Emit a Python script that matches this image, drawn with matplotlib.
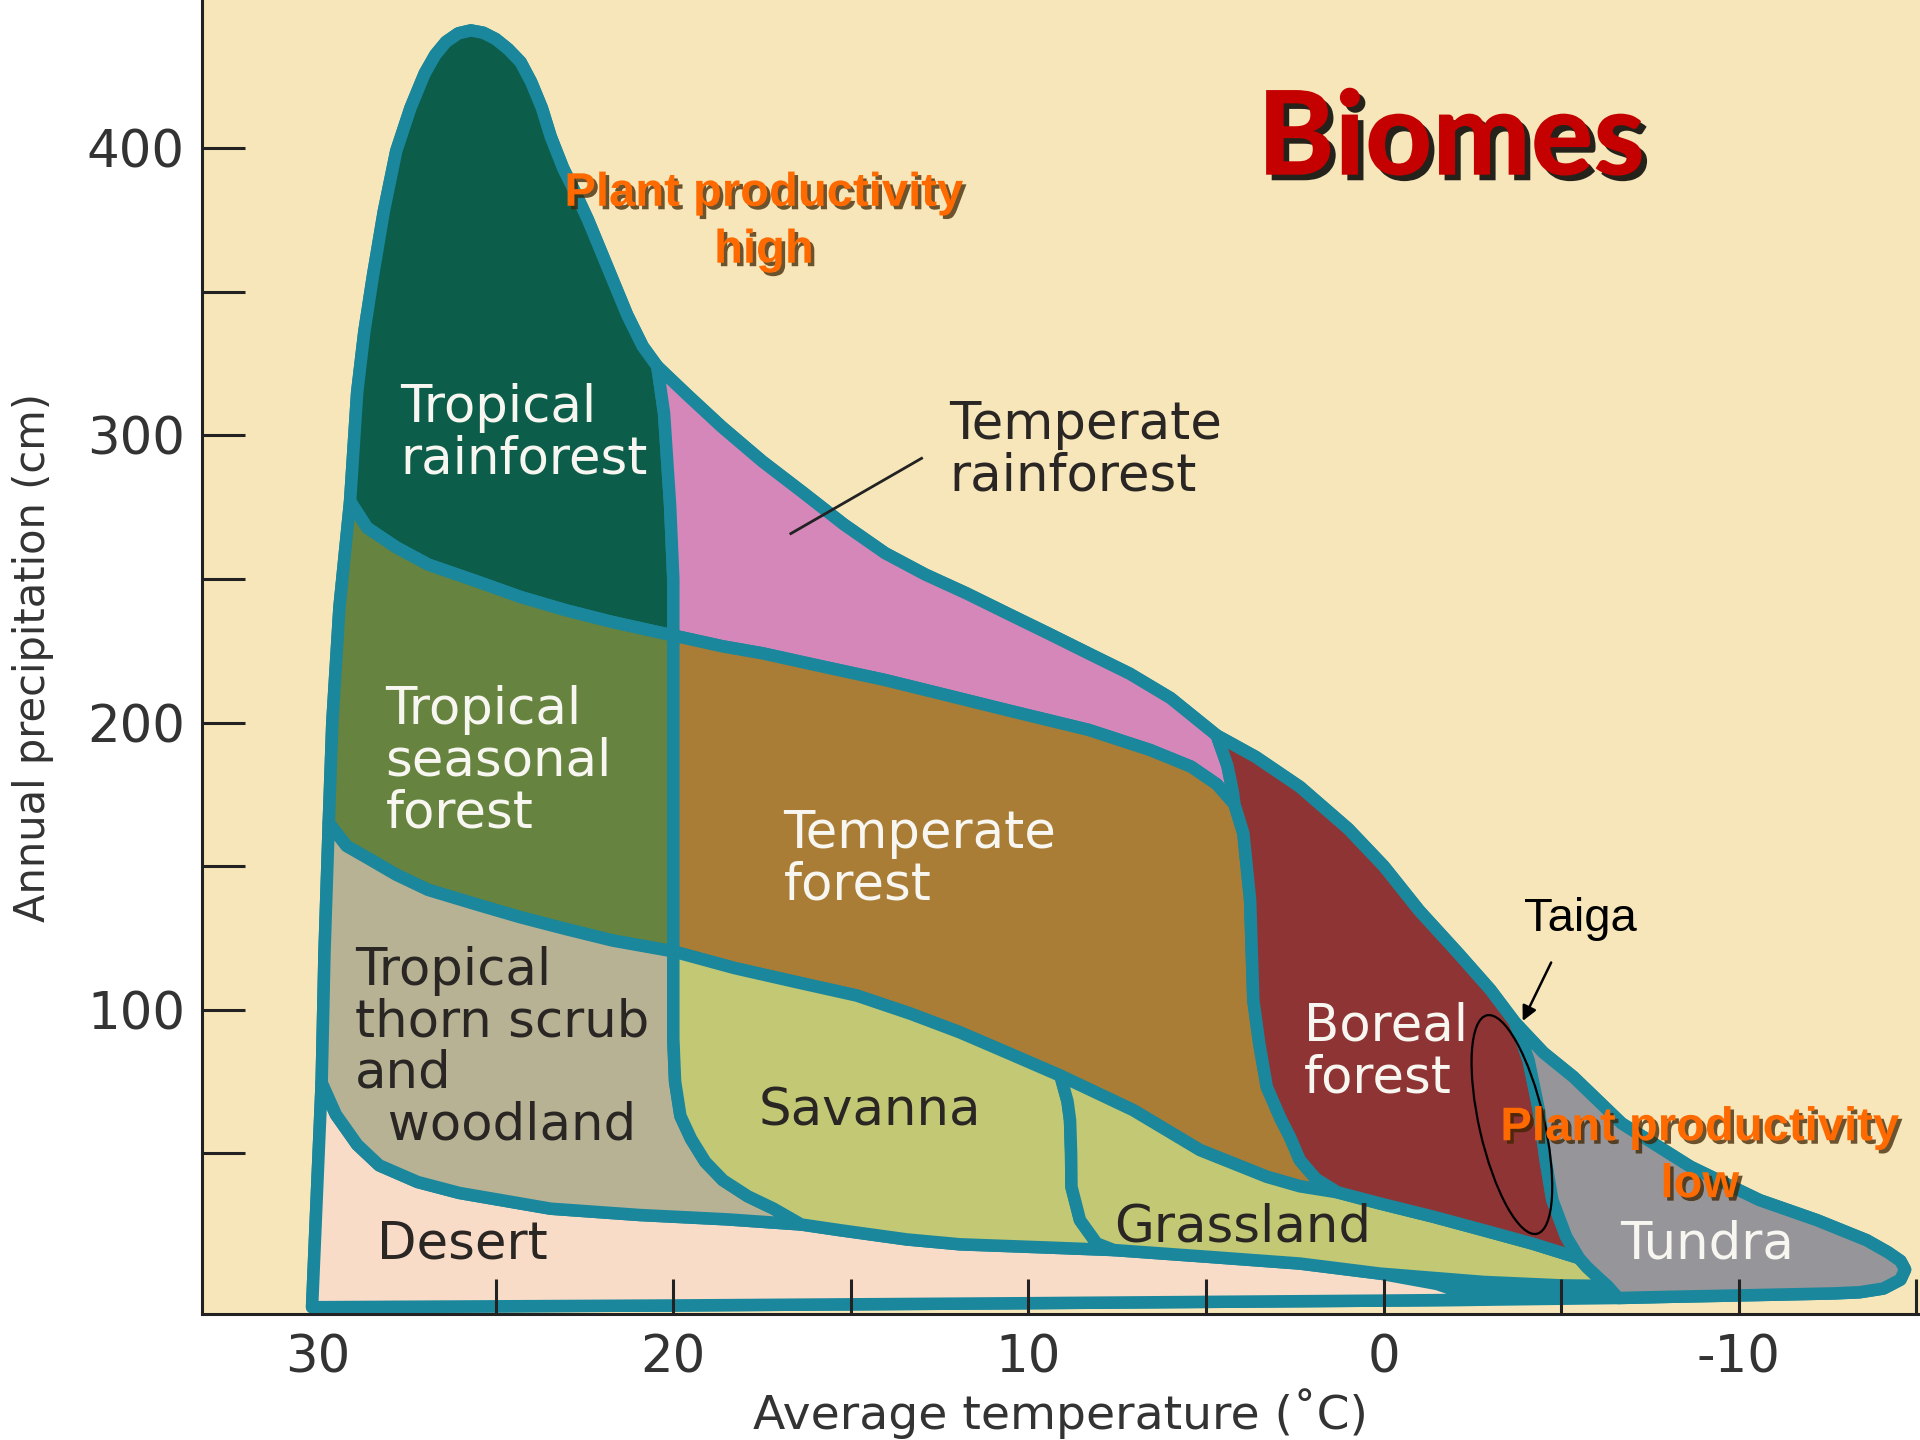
import numpy as np
import matplotlib.pyplot as plt
import matplotlib.patheffects as pe
from matplotlib.patches import Polygon, Ellipse
from matplotlib.transforms import Affine2D

plt.rcParams['axes.unicode_minus'] = False

# biome boundaries as (temperature degC, precipitation cm)
# outer edge, going up the left side, over the peak and down to the tundra tip
edge_desert = [(30.17, -3.6), (30.02, 40), (29.9, 74.6)]
edge_thorn = [(29.9, 74.6), (29.82, 120), (29.7, 165)]
edge_seasonal = [(29.7, 165), (29.6, 200), (29.4, 240), (29.1, 277)]
edge_rainforest = [(29.1, 277), (28.9, 315), (28.7, 336), (28.45, 356), (28.15, 378),
                   (27.8, 399), (27.4, 414), (27.0, 426), (26.7, 432.5), (26.4, 437),
                   (26.05, 440), (25.7, 441), (25.35, 440.2), (25.0, 438), (24.65, 434.5),
                   (24.3, 430), (24.0, 423), (23.7, 414), (23.45, 404), (23.1, 393),
                   (22.7, 383), (22.4, 375), (22.0, 363), (21.6, 351), (21.3, 342),
                   (20.86, 331), (20.45, 324)]
edge_pink = [(20.45, 324), (19.6, 314), (18.64, 303), (17.5, 291), (16.34, 280),
             (15.2, 269), (14.04, 259), (12.9, 251.5), (11.75, 245), (10.6, 238),
             (9.44, 231), (8.3, 224), (7.15, 217), (6.0, 208.5), (4.7, 195.5)]
edge_boreal = [(4.7, 195.5), (3.6, 188), (2.36, 177.6), (1.0, 163), (0.0, 150),
               (-1.0, 134.5), (-2.1, 119.6), (-3.0, 107), (-3.7, 95.5)]
edge_tundra = [(-3.7, 95.5), (-4.5, 85), (-5.34, 76.6), (-6.7, 60.4), (-8.64, 45.3),
               (-10.58, 33.7), (-12.2, 26.7), (-13.6, 19.7), (-14.2, 15.5), (-14.55, 12.5),
               (-14.68, 9.5), (-14.55, 6), (-14.07, 2.9), (-13.4, 1.6), (-12.67, 1.2),
               (-10, 0.5), (-8, 0), (-6.6, -0.4)]
bottom_right = [(-6.6, -0.4), (-2.8, -1.0)]
bottom_left = [(-2.8, -1.0), (0, -1.3), (10, -2.2), (20, -3.0), (30.17, -3.6)]

# inner boundaries
line_rf = [(29.1, 277), (28.62, 267.8), (27.8, 261), (26.9, 255), (25.5, 249),
           (24.3, 243.7), (23, 239), (21.72, 235), (20, 230.3)]
line_pink = [(20, 230.3), (18.6, 226.5), (17.49, 224.1), (15.8, 219.5), (14.04, 214.8),
             (12.3, 209.5), (10.6, 204.3), (8.3, 197.4), (6.57, 190.4), (5.42, 184.6),
             (4.7, 178.5), (4.2, 171.5)]
line_seas = [(29.7, 165), (29.2, 157), (28.62, 152.9), (27.8, 147), (26.9, 141.7),
             (25.5, 136.5), (24.31, 132.2), (23, 128), (21.72, 124.1), (20, 120.3)]
temp_sav = [(20, 120.3), (18.28, 114.5), (16.5, 109.5), (14.83, 104.9), (13.3, 98.5),
            (11.93, 92.1), (10.5, 84.5), (9.1, 77)]
temp_grass = [(9.1, 77), (7.05, 65), (5.17, 51.1), (3.29, 41.8), (2.36, 38.5), (1.3, 36.4)]
x20_upper = [(20.45, 324), (20.26, 307.7), (20.09, 275.7), (20.0, 250), (20, 230.3)]
x20_mid = [(20, 230.3), (20, 175), (20, 120.3)]
x20_low = [(20, 120.3), (20, 90), (19.95, 75), (19.8, 63), (19.5, 55), (19.1, 47),
           (18.6, 40.6), (17.9, 35), (17.19, 30.8), (16.4, 25.2)]
bor_upper = [(4.7, 195.5), (4.4, 185), (4.25, 176), (4.2, 171.5)]
bor_lower = [(4.2, 171.5), (3.95, 161.4), (3.76, 138.2), (3.67, 103.3), (3.5, 88),
             (3.29, 73.1), (2.9, 62), (2.64, 55.7), (2.36, 47.6), (1.9, 41), (1.3, 36.4)]
line_bg = [(1.3, 36.4), (0.1, 32.5), (-1.4, 27.9), (-2.81, 23.2), (-4.2, 18.5), (-5.5, 13.5)]
tu_upper = [(-3.7, 95.5), (-4.08, 82.4), (-4.37, 65), (-4.56, 47.6), (-4.75, 33.7),
            (-5.14, 20.9), (-5.5, 13.5)]
tu_lower = [(-5.5, 13.5), (-5.72, 10.4), (-6.1, 6), (-6.3, 3.8)]
tu_bottom = [(-6.3, 3.8), (-6.6, -0.4)]
line_sg = [(9.1, 77), (8.9, 68), (8.83, 61.5), (8.8, 50), (8.79, 38.3), (8.55, 26.7),
           (8.08, 18.6), (7.6, 16.3)]
desert_thorn = [(29.9, 74.6), (29.5, 63.5), (28.9, 53), (28.28, 45.8), (27.2, 40),
                (26.03, 36.2), (23.45, 30.7), (20.94, 28.5), (18.5, 27), (16.4, 25.2)]
desert_sav = [(16.4, 25.2), (15.3, 23.2), (13.43, 20), (11.93, 18.3), (9.5, 17.2), (7.6, 16.3)]
desert_grass = [(7.6, 16.3), (5, 14), (2.36, 11.6), (0.1, 8.1)]
grass_tail = [(0.1, 8.1), (-2.81, 5.2), (-5, 4.0), (-6.3, 3.8)]
desert_tail = [(0.1, 8.1), (-1.5, 4.5), (-2.8, -1.0)]


def rev(seg):
    return seg[::-1]


def chain(*segs):
    return np.array([p for s in segs for p in s])


regions = {
    'outer': (chain(edge_desert, edge_thorn, edge_seasonal, edge_rainforest, edge_pink,
                    edge_boreal, edge_tundra, bottom_right, bottom_left), '#1A879C'),
    'desert': (chain(edge_desert, desert_thorn, desert_sav, desert_grass, desert_tail,
                     bottom_left), '#F9DCC8'),
    'rainforest': (chain(edge_rainforest, x20_upper, rev(line_rf)), '#0C5E4A'),
    'seasonal': (chain(line_rf, x20_mid, rev(line_seas), edge_seasonal), '#66833F'),
    'thorn': (chain(line_seas, x20_low, rev(desert_thorn), edge_thorn), '#B8B295'),
    'pink': (chain(edge_pink, bor_upper, rev(line_pink), rev(x20_upper)), '#D587B9'),
    'temperate': (chain(line_pink, bor_lower, rev(temp_grass), rev(temp_sav), rev(x20_mid)), '#A97D35'),
    'savanna': (chain(temp_sav, line_sg, rev(desert_sav), rev(x20_low)), '#C2C874'),
    'grassland': (chain(temp_grass, line_bg, tu_lower, rev(grass_tail), rev(desert_grass),
                        rev(line_sg)), '#C2C874'),
    'boreal': (chain(edge_boreal, tu_upper, rev(line_bg), rev(bor_lower), rev(bor_upper)), '#8F3434'),
    'tundra': (chain(edge_tundra, rev(tu_bottom), rev(tu_lower), rev(tu_upper)), '#96969A'),
}

fig = plt.figure(figsize=(19.2, 14.4), dpi=100)
fig.patch.set_facecolor('white')
ax = fig.add_axes([0.105, 0.0875, 0.895, 0.9125])
ax.set_facecolor('#F7E6B9')
ax.set_xlim(33.28, -15.1)
ax.set_ylim(-5.97, 451.6)

teal = '#1A879C'
for name, (pts, col) in regions.items():
    ax.add_patch(Polygon(pts, closed=True, facecolor=col, edgecolor=teal, lw=9,
                         joinstyle='round', zorder=1))

# labels inside the biomes
white = '#F8F6F0'
dark = '#2A2624'
lab = dict(fontsize=37, ha='left', va='center', linespacing=1.04, zorder=4)
ax.text(27.69, 300.4, 'Tropical\nrainforest', color=white, **lab)
ax.text(28.1, 186.4, 'Tropical\nseasonal\nforest', color=white, **lab)
ax.text(28.97, 86.6, 'Tropical\nthorn scrub\nand\n  woodland', color=dark, **lab)
ax.text(28.34, 18.3, 'Desert', color=dark, **lab)
ax.text(17.59, 64.4, 'Savanna', color=dark, **lab)
ax.text(7.59, 24.3, 'Grassland', color=dark, **lab)
ax.text(16.9, 152.2, 'Temperate\nforest', color=white, **lab)
ax.text(12.24, 294.5, 'Temperate\nrainforest', color=dark, **lab)
ax.text(2.24, 85.1, 'Boreal\nforest', color=white, **lab)
ax.text(-6.66, 18.3, 'Tundra', color=white, **lab)

# leader for temperate rainforest
ax.plot([13.01, 16.69], [292, 265.8], color='#222222', lw=2, zorder=4)

# taiga note
ax.text(-5.53, 131.5, 'Taiga', fontsize=34, family='Liberation Sans', color='black',
        ha='center', va='center', zorder=5)
ax.annotate('', xy=(-3.88, 95.2), xytext=(-4.75, 117.3),
            arrowprops=dict(arrowstyle='-|>', color='black', lw=1.8, mutation_scale=22),
            zorder=5)
ell_tf = Affine2D().scale(-1 / 29, 1 / 2.345).translate(-3.61, 60.0) + ax.transData
ax.add_patch(Ellipse((0, 0), width=183, height=53, angle=-77.1, fill=False,
                     edgecolor='black', lw=1.6, transform=ell_tf, zorder=5))

# productivity notes
shadow = [pe.withSimplePatchShadow(offset=(2.5, -2.5), shadow_rgbFace='#3B2200', alpha=0.75)]
note = dict(fontsize=34, family='Liberation Sans', weight='bold', color='#FF6A00',
            ha='center', va='center', linespacing=1.38, zorder=6, path_effects=shadow)
ax.text(17.45, 374.2, 'Plant productivity\nhigh', **note)
ax.text(-8.9, 48.8, 'Plant productivity\nlow', **note)

ax.text(-1.9, 402.6, 'Biomes', fontsize=84, weight='black', color='#C40000',
        family=['Lato', 'Liberation Sans'], ha='center', va='center', zorder=6,
        path_effects=[pe.withSimplePatchShadow(offset=(4, -4), shadow_rgbFace='black', alpha=0.85)])

# axes styling
for s in ['top', 'right']:
    ax.spines[s].set_visible(False)
for s in ['left', 'bottom']:
    ax.spines[s].set_color('#222222')
    ax.spines[s].set_linewidth(2.2)
    ax.spines[s].set_zorder(3)

ax.set_yticks([100, 200, 300, 400])
ax.set_yticks([50, 150, 250, 350], minor=True)
ax.set_xticks([30, 20, 10, 0, -10])
ax.set_xticks([25, 15, 5, -5, -15], minor=True)
ax.tick_params(which='both', direction='in', width=2.2, color='#222222', zorder=3)
ax.tick_params(axis='y', which='both', length=31, pad=12, labelsize=37, labelcolor='#333333')
ax.tick_params(axis='x', which='both', length=25, pad=14, labelsize=37, labelcolor='#333333')
ax.xaxis.get_major_ticks()[0].tick1line.set_visible(False)

ax.set_xlabel('Average temperature (˚C)', fontsize=34, color='#333333', va='top')
ax.xaxis.set_label_coords(0.5, -0.0563)
ax.set_ylabel('Annual precipitation (cm)', fontsize=30, color='#333333')
ax.yaxis.set_label_coords(-0.086, 0.5)

fig.savefig('out.png', dpi=100)
